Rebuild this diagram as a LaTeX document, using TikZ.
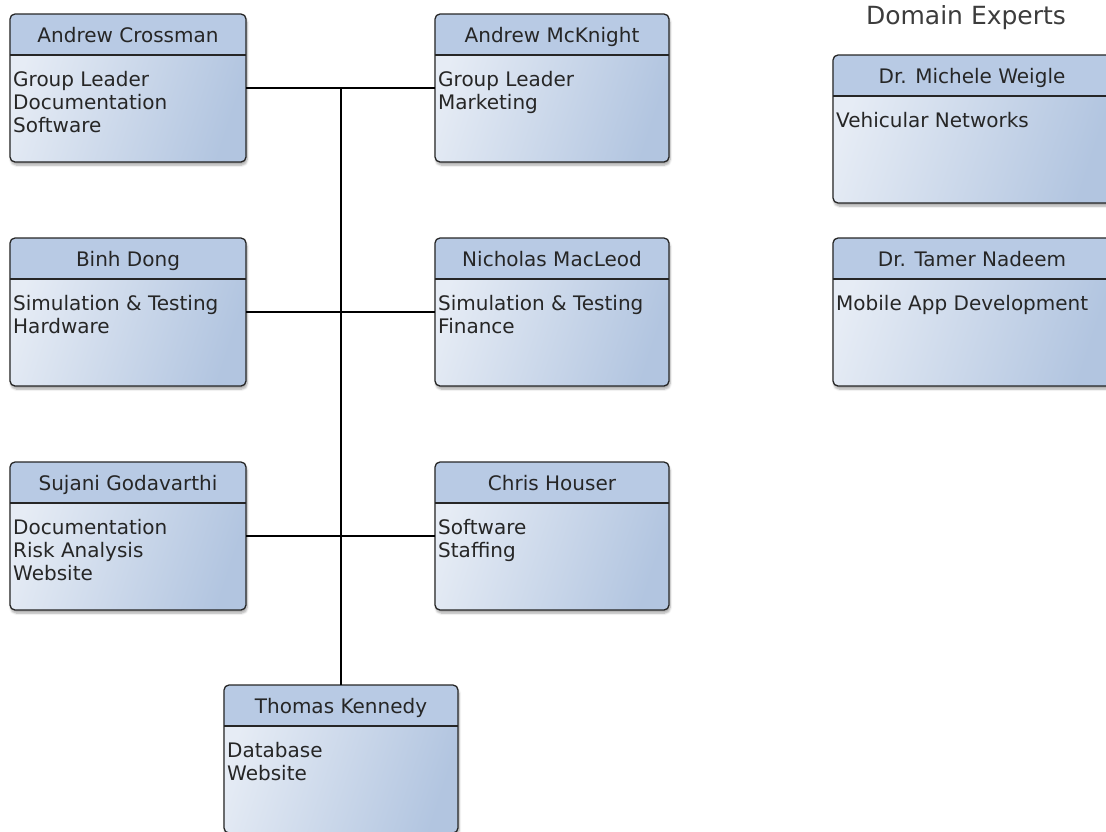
\documentclass[tikz,border=0pt]{standalone}
\usepackage{fontspec}
\setmainfont{DejaVu Sans}
\usetikzlibrary{calc,shadows.blur}

\definecolor{headblue}{HTML}{B8CAE4}
\definecolor{bodylight}{HTML}{E6ECF5}
\definecolor{bodydark}{HTML}{B2C5E0}
\definecolor{inkgray}{HTML}{262626}

\tikzset{
  member box/.style={anchor=north west, inner sep=0, outer sep=0,
    minimum height=148pt, rounded corners=5pt,
    top color=bodylight, bottom color=bodydark, shading angle=72,
    blur shadow={shadow xshift=1pt, shadow yshift=-3pt, shadow opacity=35, shadow blur steps=6}},
  box line/.style={draw=inkgray, line width=1.3pt},
  head text/.style={anchor=base, inner sep=0, text=inkgray, font=\fontsize{20}{23}\selectfont},
  body text/.style={anchor=north west, inner sep=0, align=left, text=inkgray, font=\fontsize{20}{23}\selectfont},
  link/.style={draw=black, line width=1.5pt}
}

% name, x, y, width, head, body
\newcommand{\member}[6]{%
  \node[member box, minimum width=#4] (#1) at (#2,#3) {};
  \begin{scope}
    \clip[rounded corners=5pt] (#1.north west) rectangle (#1.south east);
    \fill[headblue] (#1.north west) rectangle ([yshift=-41pt]#1.north east);
  \end{scope}
  \draw[box line] ([yshift=-41pt]#1.north west) -- ([yshift=-41pt]#1.north east);
  \node[head text] (#1-head) at ([yshift=-28pt]#1.north) {#5};
  \node[body text] (#1-body) at ([xshift=3pt,yshift=-57pt]#1.north west) {#6};
  \draw[box line, rounded corners=5pt] (#1.north west) rectangle (#1.south east);
}

\begin{document}
\begin{tikzpicture}[x=1pt, y=-1pt]
  \useasboundingbox (0,0) rectangle (1106,831);

  % team
  \member{crossman}{10}{14}{236}{Andrew Crossman}{Group Leader\\Documentation\\Software}
  \member{mcknight}{435}{14}{234}{Andrew McKnight}{Group Leader\\Marketing}
  \member{dong}{10}{238}{236}{Binh Dong}{Simulation \& Testing\\Hardware}
  \member{macleod}{435}{238}{234}{Nicholas MacLeod}{Simulation \& Testing\\Finance}
  \member{godavarthi}{10}{462}{236}{Sujani Godavarthi}{Documentation\\Risk Analysis\\Website}
  \member{houser}{435}{462}{234}{Chris Houser}{Software\\Staffing}
  \member{kennedy}{224}{685}{234}{Thomas Kennedy}{Database\\Website}

  % experts
  \node[anchor=base, inner sep=0, text=inkgray!90, font=\fontsize{25}{28}\selectfont] (experts) at (966,24) {Domain Experts};
  \member{weigle}{833}{55}{278}{Dr. Michele Weigle}{Vehicular Networks}
  \member{nadeem}{833}{238}{278}{Dr. Tamer Nadeem}{Mobile App Development}

  % links
  \draw[link] (crossman.east) -- (mcknight.west);
  \draw[link] (dong.east) -- (macleod.west);
  \draw[link] (godavarthi.east) -- (houser.west);
  \draw[link] (kennedy.north) -- (kennedy.north |- crossman.east);
\end{tikzpicture}
\end{document}
